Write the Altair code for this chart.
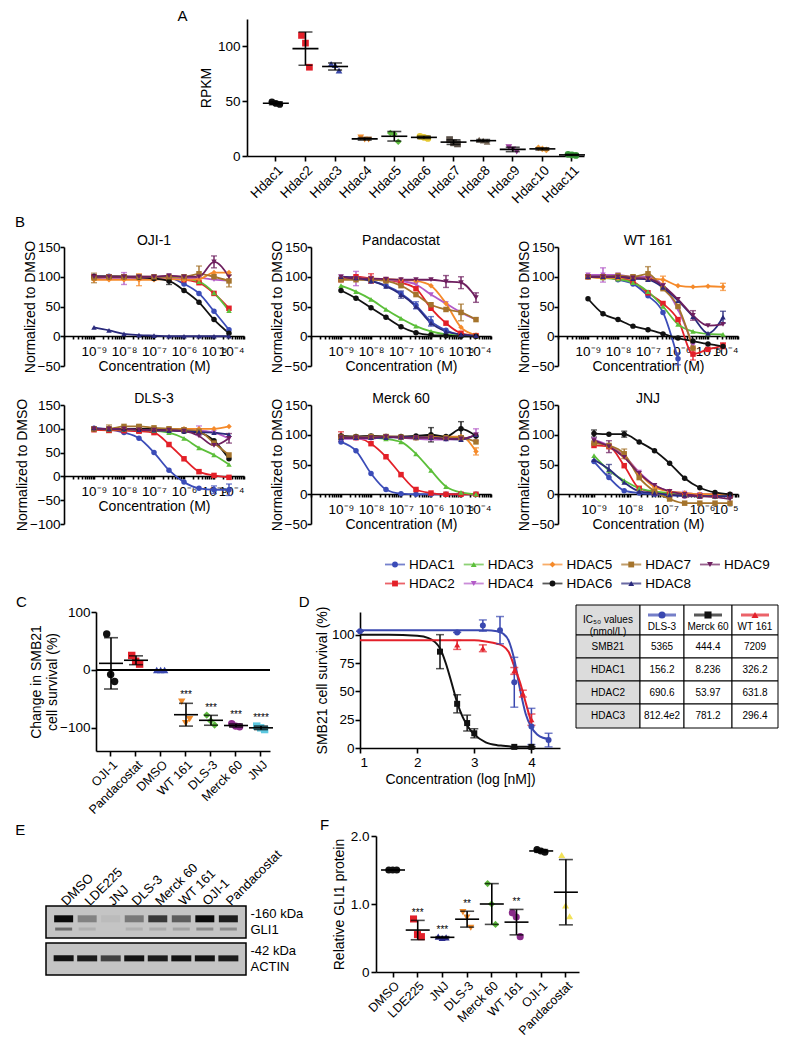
import altair as alt
import pandas as pd

FONT = "Liberation Sans"

# ---------------- Panel A ----------------
A_GENES = ["Hdac1", "Hdac2", "Hdac3", "Hdac4", "Hdac5", "Hdac6", "Hdac7", "Hdac8", "Hdac9", "Hdac10", "Hdac11"]
A_REP1 = [49.5, 110, 84, 17, 21, 18, 15, 15, 8, 7.5, 1.5]
A_REP2 = [48, 103, 83, 15, 20, 17, 12, 14, 6, 6.5, 1]
A_REP3 = [47, 81, 78, 15, 13, 16, 11, 13, 4, 5.5, 0.5]
A_COLORS = ["#111111", "#e3202a", "#3a48a8", "#f08a2a", "#5cba3c", "#e5c832",
            "#5a5048", "#7a6a5a", "#9a3c9a", "#f0a040", "#3a9a3a"]
A_SHAPES = ["circle", "square", "triangle-up", "triangle-down", "diamond", "circle",
            "square", "triangle-up", "triangle-down", "diamond", "circle"]

# ---------------- Panel B ----------------
HDACS = ["HDAC1", "HDAC2", "HDAC3", "HDAC4", "HDAC5", "HDAC6", "HDAC7", "HDAC8", "HDAC9"]
HDAC_COLORS = ["#3b4cb8", "#e32028", "#5cbf3a", "#b35bc8", "#f58a2a", "#111111", "#a5742c", "#2a2a7c", "#6e1f5f"]
HDAC_SHAPES = ["circle", "square", "triangle-up", "triangle-down", "diamond", "circle", "square", "triangle-up", "triangle-down"]
CONC_STD = [1e-9, 3.16e-9, 1e-8, 3.16e-8, 1e-7, 3.16e-7, 1e-6, 3.16e-6, 1e-5, 3.16e-5]
CONC_JNJ = [1e-9, 2.6e-9, 6.9e-9, 1.8e-8, 4.8e-8, 1.26e-7, 3.3e-7, 8.7e-7, 2.3e-6, 6.0e-6]

OJI1 = [
    [101, 101, 100, 100, 99, 98, 88, 72, 42, 11],
    [100, 100, 100, 99, 98, 97, 95, 90, 72, 47],
    [100, 100, 100, 99, 98, 98, 97, 92, 73, 43],
    [97, 98, 97, 97, 98, 97, 97, 98, 95, 93],
    [95, 95, 95, 95, 95, 96, 95, 96, 107, 107],
    [100, 100, 100, 99, 97, 93, 77, 57, 28, 5],
    [98, 100, 100, 100, 100, 100, 100, 105, 100, 93],
    [15, 10, 4, 2, 1, 0, 0, 0, 0, 0],
    [100, 100, 100, 100, 100, 102, 100, 100, 125, 100],
]
PANDACOSTAT = [
    [98, 97, 93, 85, 72, 52, 25, 10, 2, 0],
    [95, 100, 97, 95, 90, 80, 47, 22, 5, 1],
    [85, 75, 62, 45, 30, 17, 8, 3, 1, 0],
    [100, 97, 97, 95, 93, 87, 70, 55, 40, 28],
    [98, 97, 97, 96, 95, 93, 85, 55, 15, 2],
    [77, 64, 48, 32, 16, 6, 2, 1, 0, 0],
    [95, 95, 95, 93, 85, 70, 53, 45, 40, 28],
    [100, 98, 93, 84, 70, 50, 22, 8, 3, 1],
    [100, 97, 97, 96, 95, 95, 95, 92, 90, 65],
]
WT161 = [
    [100, 100, 95, 88, 68, 40, -38, None, None, None],
    [100, 100, 98, 92, 73, 55, 28, -30, -22, -16],
    [100, 98, 96, 90, 75, 50, 20, 8, 4, 3],
    [103, 103, 103, 100, 100, 85, 45, -15, None, None],
    [100, 98, 98, 97, 97, 95, 85, 83, 84, 83],
    [63, 38, 28, 17, 11, 4, -3, -8, -13, -17],
    [100, 100, 102, 100, 105, 80, 50, -20, None, None],
    [100, 100, 100, 97, 95, 82, 60, 33, 5, 32],
    [100, 100, 100, 98, 97, 85, 62, 35, 18, 20],
]
DLS3 = [
    [101, 99, 92, 80, 50, 13, -12, -25, -28, -28],
    [98, 97, 96, 95, 92, 67, 37, 10, 2, -2],
    [100, 99, 99, 98, 96, 92, 80, 60, 45, 25],
    [100, 100, 100, 100, 98, 97, 98, 96, 92, 80],
    [100, 100, 100, 100, 100, 100, 100, 100, 100, 105],
    [100, 100, 100, 100, 100, 98, 95, 92, 75, 37],
    [100, 100, 105, 105, 102, 100, 98, 95, 70, 45],
    [102, 100, 100, 98, 97, 96, 95, 93, 92, 88],
    [100, 100, 100, 98, 97, 97, 95, 85, 65, 80],
]
MERCK60 = [
    [88, 73, 35, 8, 1, 0, 0, 0, 0, 0],
    [97, 95, 85, 63, 33, 8, 2, 0, 0, 0],
    [95, 95, 95, 93, 88, 68, 40, 13, 3, 0],
    [93, 93, 93, 97, 95, 93, 92, 92, 93, 100],
    [97, 97, 97, 97, 97, 97, 97, 97, 97, 72],
    [98, 97, 98, 97, 97, 98, 100, 97, 110, 98],
    [96, 96, 97, 97, 96, 95, 96, 95, 95, 88],
    [95, 95, 95, 95, 96, 96, 95, 93, 92, 100],
    [95, 95, 95, 97, 95, 95, 95, 93, 93, 100],
]
JNJ = [
    [55, 28, 6, 2, 0, -2, -3, -3, -3, -3],
    [82, 80, 48, 10, 3, 0, -2, -3, -3, -3],
    [65, 40, 23, 10, 5, 2, 0, -2, -3, -3],
    [92, 82, 65, 37, 15, 5, 2, 0, 0, 0],
    [88, 80, 63, 35, 12, 5, 2, 0, 0, 0],
    [102, 101, 101, 88, 73, 52, 27, 11, 3, 0],
    [86, 82, 68, 28, 5, -8, -15, -15, -15, -15],
    [58, 42, 20, 5, 2, -1, -2, -3, -3, -3],
    [90, 80, 62, 35, 15, 5, 0, -3, -5, -8],
]
# (panel, series, point index, half error)
B_ERRORS = [
    ("OJI-1", "HDAC9", 8, 10), ("OJI-1", "HDAC7", 7, 13), ("OJI-1", "HDAC7", 9, 10),
    ("OJI-1", "HDAC5", 3, 10), ("OJI-1", "HDAC7", 0, 8), ("OJI-1", "HDAC6", 5, 6), ("OJI-1", "HDAC4", 2, 10),
    ("Pandacostat", "HDAC4", 1, 12), ("Pandacostat", "HDAC9", 7, 10), ("Pandacostat", "HDAC9", 8, 10),
    ("Pandacostat", "HDAC9", 9, 8), ("Pandacostat", "HDAC7", 8, 14), ("Pandacostat", "HDAC1", 6, 8),
    ("Pandacostat", "HDAC1", 5, 6), ("Pandacostat", "HDAC8", 4, 6), ("Pandacostat", "HDAC2", 2, 8),
    ("WT 161", "HDAC4", 1, 12), ("WT 161", "HDAC7", 4, 12), ("WT 161", "HDAC5", 5, 6), ("WT 161", "HDAC1", 6, 10),
    ("WT 161", "HDAC2", 7, 10), ("WT 161", "HDAC8", 9, 10), ("WT 161", "HDAC9", 7, 8), ("WT 161", "HDAC5", 9, 6),
    ("WT 161", "HDAC2", 9, 5),
    ("DLS-3", "HDAC7", 1, 8), ("DLS-3", "HDAC6", 3, 8), ("DLS-3", "HDAC4", 7, 10), ("DLS-3", "HDAC1", 9, 12),
    ("DLS-3", "HDAC1", 8, 8), ("DLS-3", "HDAC9", 9, 10),
    ("Merck 60", "HDAC6", 8, 12), ("Merck 60", "HDAC5", 9, 6), ("Merck 60", "HDAC4", 9, 10),
    ("Merck 60", "HDAC6", 6, 12), ("Merck 60", "HDAC2", 0, 8),
    ("JNJ", "HDAC6", 0, 6), ("JNJ", "HDAC6", 2, 5), ("JNJ", "HDAC7", 2, 8), ("JNJ", "HDAC9", 1, 10), ("JNJ", "HDAC8", 1, 8),
]
LEGEND_ORDER = ["HDAC1", "HDAC3", "HDAC5", "HDAC7", "HDAC9", "HDAC2", "HDAC4", "HDAC6", "HDAC8"]

# ---------------- Panel C ----------------
C_CATS = ["OJI-1", "Pandacostat", "DMSO", "WT 161", "DLS-3", "Merck 60", "JNJ"]
C_REP1 = [62, 25, 0, -55, -78, -93, -97]
C_REP2 = [-8, 15, 0, -92, -88, -97, -100]
C_REP3 = [-20, 10, 0, -85, -95, -98, -103]
C_COLORS = ["#111111", "#e3202a", "#3a48b0", "#f08a2a", "#5cba3c", "#8a2a8a", "#5cc8e0"]
C_SHAPES = ["circle", "square", "triangle-up", "triangle-down", "diamond", "circle", "square"]
C_STAR_CATS = ["WT 161", "DLS-3", "Merck 60", "JNJ"]
C_STAR_TEXT = ["***", "***", "***", "****"]
C_STAR_Y = [-52, -74, -86, -92]

# ---------------- Panel D ----------------
D_DLS3_X = [1.0, 2.7, 3.15, 3.45, 3.7, 4.0, 4.3]
D_DLS3_Y = [103, 102, 108, 104, 58, 19, 7]
D_DLS3_ERR = [0, 0, 5, 12, 22, 16, 6]
D_MERCK_X = [2.4, 2.7, 2.875, 3.0, 3.7, 4.0]
D_MERCK_Y = [85, 39, 22, 13, 1, 1]
D_MERCK_ERR = [15, 8, 7, 4, 0, 0]
D_WT_X = [2.7, 3.15, 3.7, 3.85, 4.0]
D_WT_Y = [91, 88, 68, 48, 25]
D_WT_ERR = [4, 3, 3, 3, 5]
D_CURVE_X = [1.0, 1.5, 2.0, 2.2, 2.4, 2.5, 2.6, 2.7, 2.8, 2.9, 3.0, 3.2, 3.4, 3.5, 3.6, 3.7, 3.8, 3.9, 4.0, 4.1, 4.2, 4.3]
D_CURVE_DLS3 = [104, 104, 104, 104, 104, 104, 104, 104, 104, 104, 104, 104, 103, 101, 95, 78, 52, 30, 18, 12, 9, 8]
D_CURVE_MERCK = [100, 100, 99, 97, 88, 75, 58, 40, 27, 18, 12, 5, 2.5, 2, 1.5, 1, 1, 1, 1, None, None, None]
D_CURVE_WT = [95, 95, 95, 95, 95, 95, 95, 95, 95, 95, 95, 94, 92, 90, 85, 72, 58, 40, 22, None, None, None]
D_COMPOUNDS = ["DLS-3", "Merck 60", "WT 161"]
D_COLORS = ["#3a48b0", "#111111", "#e3202a"]
D_SHAPES = ["circle", "square", "triangle-up"]

# ---------------- Table ----------------
T_ROWS = ["SMB21", "HDAC1", "HDAC2", "HDAC3"]
T_DLS3 = ["5365", "156.2", "690.6", "812.4e2"]
T_MERCK60 = ["444.4", "8.236", "53.97", "781.2"]
T_WT161 = ["7209", "326.2", "631.8", "296.4"]

# ---------------- Panel E ----------------
E_LANES = ["DMSO", "LDE225", "JNJ", "DLS-3", "Merck 60", "WT 161", "OJI-1", "Pandacostat"]
E_GLI1 = [1.0, 0.35, 0.05, 0.4, 0.75, 0.55, 1.0, 0.9]
E_GLI1_LOWER = [0.55, 0.12, 0.0, 0.12, 0.15, 0.2, 0.35, 0.35]
E_ACTIN = [0.95, 0.9, 0.7, 0.95, 0.9, 0.95, 0.95, 0.9]

# ---------------- Panel F ----------------
F_CATS = ["DMSO", "LDE225", "JNJ", "DLS-3", "Merck 60", "WT 161", "OJI-1", "Pandacostat"]
F_REP1 = [1.5, 0.78, 0.52, 0.88, 1.3, 0.87, 1.80, 1.72]
F_REP2 = [1.5, 0.55, 0.50, 0.80, 1.0, 0.81, 1.78, 0.98]
F_REP3 = [1.5, 0.52, 0.51, 0.65, 0.7, 0.52, 1.76, 0.82]
F_COLORS = ["#111111", "#e3202a", "#2a2a8c", "#f08a2a", "#5cba3c", "#8a2a8a", "#111111", "#f2e25a"]
F_SHAPES = ["circle", "square", "triangle-up", "triangle-down", "diamond", "circle", "circle", "triangle-up"]
F_STAR_CATS = ["LDE225", "JNJ", "DLS-3", "WT 161"]
F_STAR_TEXT = ["***", "***", "**", "**"]
F_STAR_Y = [0.8, 0.55, 0.93, 0.95]

SUP = {"-": "\u207b", "0": "\u2070", "1": "\u00b9", "2": "\u00b2", "3": "\u00b3", "4": "\u2074",
       "5": "\u2075", "6": "\u2076", "7": "\u2077", "8": "\u2078", "9": "\u2079"}

LBL = 13.5
TTL = 14
AX = dict(domainColor="black", tickColor="black", labelColor="black", titleColor="black",
          domainWidth=1.6, tickWidth=1.6, grid=False, labelFontSize=LBL, titleFontSize=TTL,
          titleFontWeight="normal")


def letter(t, dy=0, offset=4):
    return alt.TitleParams(t, orient="left", angle=0, anchor="end", fontSize=15,
                           fontWeight="normal", dy=dy, offset=offset, baseline="top")


def spacer(w, h):
    return alt.Chart(pd.DataFrame({"s": [0]})).mark_point(opacity=0).encode(
        x=alt.X("s:Q", axis=None), y=alt.Y("s:Q", axis=None)).properties(width=w, height=h)


def sup(e):
    return "10" + "".join(SUP[ch] for ch in str(e))


def dot_panel(cats, reps, colors, shapes, width, height, ydom, yvals, ytitle, pin, pout, align,
              mean_size, cap, psize, ylabel_expr=None, stars=None, zero_rule=False, title=None, xfont=LBL,
              ytp=4, ylp=2):
    rows = []
    for ci, c in enumerate(cats):
        for ri, r in enumerate(reps):
            rows.append({"cat": c, "rep": ri, "val": r[ci], "clr": colors[ci], "shp": shapes[ci]})
    df = pd.DataFrame(rows)
    yax = dict(AX, values=yvals, title=ytitle, tickSize=5, labelPadding=ylp, titlePadding=ytp)
    if ylabel_expr:
        yax["labelExpr"] = ylabel_expr
    x = alt.X("cat:N", sort=cats,
              scale=alt.Scale(domain=cats, paddingInner=pin, paddingOuter=pout, align=align),
              axis=alt.Axis(**dict(AX, title=None, labelAngle=-45, tickSize=5, labelPadding=2,
                                   labelFontSize=xfont)))
    y = alt.Y("val:Q", scale=alt.Scale(domain=ydom, nice=False, zero=False), axis=alt.Axis(**yax))
    base = alt.Chart(df)
    layers = []
    if zero_rule:
        layers.append(base.mark_rule(color="black", strokeWidth=1.4).encode(y=alt.datum(0)))
    layers.append(base.mark_point(filled=True, size=psize, opacity=1).encode(
        x=x, xOffset=alt.XOffset("rep:N"), y=y,
        color=alt.Color("clr:N", scale=None), shape=alt.Shape("shp:N", scale=None)))
    layers.append(base.mark_errorbar(extent="stdev", ticks={"size": cap}, thickness=1.6,
                                     color="black").encode(x=x, y=y))
    layers.append(base.mark_tick(color="black", size=mean_size, thickness=1.6).encode(
        x=x, y=alt.Y("mean(val):Q")))
    if stars:
        sdf = pd.DataFrame({"cat": stars[0], "txt": stars[1], "val": stars[2]})
        layers.append(alt.Chart(sdf).mark_text(fontSize=10, baseline="bottom").encode(
            x=x, y=y, text="txt:N", color=alt.value("#000000")))
    props = dict(width=width, height=height)
    if title is not None:
        props["title"] = title
    return alt.layer(*layers).properties(**props)


def b_panel(name, values, conc, xmax_exp, ymin, label_exps):
    rows = []
    for i, h in enumerate(HDACS):
        for j, c in enumerate(conc):
            v = values[i][j]
            if v is None:
                continue
            rows.append({"hdac": h, "conc": c, "val": v, "clr": HDAC_COLORS[i], "shp": HDAC_SHAPES[i]})
    df = pd.DataFrame(rows)
    erows = []
    for (p, h, j, e) in B_ERRORS:
        if p != name:
            continue
        i = HDACS.index(h)
        v = values[i][j]
        erows.append({"hdac": h, "conc": conc[j], "val": v - e, "hi": v + e, "clr": HDAC_COLORS[i]})
    edf = pd.DataFrame(erows)
    H = 119
    off = -round(H * (0 - ymin) / (150 - ymin))
    tickvals = []
    for e in range(-10, xmax_exp):
        for k in range(1, 10):
            tickvals.append(float(f"{k}e{e}"))
    tickvals.append(float(f"1e{xmax_exp}"))
    expr = "".join(f"datum.value == 1e{e} ? '{sup(e)}' : " for e in label_exps) + "''"
    x = alt.X("conc:Q", scale=alt.Scale(type="log", domain=[1e-10, float(f"1e{xmax_exp}")]),
              axis=alt.Axis(**dict(AX, values=tickvals, labelExpr=expr, labelOverlap=False, tickSize=3,
                                   offset=off, title="Concentration (M)", labelPadding=5, titlePadding=2,
                                   labelFontSize=13.5)))
    y = alt.Y("val:Q", scale=alt.Scale(domain=[ymin, 150], nice=False, zero=False),
              axis=alt.Axis(**dict(AX, values=list(range(ymin, 151, 50)), title="Normalized to DMSO",
                                   tickSize=4, labelPadding=0, titlePadding=0)))
    color = alt.Color("clr:N", scale=None)
    lines = alt.Chart(df).mark_line(strokeWidth=1.8, interpolate="monotone", clip=True).encode(
        x=x, y=y, color=color, detail="hdac:N")
    errs = alt.Chart(edf).mark_errorbar(ticks={"size": 6}, thickness=1.4).encode(
        x=x, y=y, y2="hi:Q", color=color, detail="hdac:N")
    pts = alt.Chart(df).mark_point(filled=True, size=30, opacity=1, clip=True).encode(
        x=x, y=y, color=color, shape=alt.Shape("shp:N", scale=None))
    return alt.layer(lines, errs, pts).properties(
        width=180, height=H,
        title=alt.TitleParams(name, fontSize=TTL, fontWeight="normal", offset=-8))


# ---------- build A ----------
chartA = dot_panel(A_GENES, [A_REP1, A_REP2, A_REP3], A_COLORS, A_SHAPES, 337, 137, [0, 125],
                   [0, 25, 50, 75, 100, 125], "RPKM", 0.6, 0.49, 0.79, 26, 14, 45,
                   title=letter("A", dy=-10, offset=2))

# ---------- build B ----------
oji = b_panel("OJI-1", OJI1, CONC_STD, -4, -50, [-9, -8, -7, -6, -5, -4])
pan = b_panel("Pandacostat", PANDACOSTAT, CONC_STD, -4, -50, [-9, -8, -7, -6, -5, -4])
wt = b_panel("WT 161", WT161, CONC_STD, -4, -50, [-9, -8, -7, -6, -5, -4])
dls = b_panel("DLS-3", DLS3, CONC_STD, -4, -100, [-9, -8, -7, -6, -5, -4])
mer = b_panel("Merck 60", MERCK60, CONC_STD, -4, -50, [-9, -8, -7, -6, -5, -4])
jnj = b_panel("JNJ", JNJ, CONC_JNJ, -5, -50, [-9, -8, -7, -6, -5])
gridB = alt.concat(oji, pan, wt, dls, mer, jnj, columns=3, spacing={"row": 17, "column": 23},
                   title=alt.TitleParams("B", anchor="start", fontSize=15, fontWeight="normal", offset=4))

# ---------- legend ----------
ldf = pd.DataFrame({"hdac": LEGEND_ORDER,
                    "col": [i % 5 for i in range(9)],
                    "row": [i // 5 for i in range(9)],
                    "clr": [HDAC_COLORS[HDACS.index(h)] for h in LEGEND_ORDER],
                    "shp": [HDAC_SHAPES[HDACS.index(h)] for h in LEGEND_ORDER]})
lx = alt.X("col:Q", scale=alt.Scale(domain=[-0.254, 4.826], nice=False, zero=False), axis=None)
ly = alt.Y("row:Q", scale=alt.Scale(domain=[-0.5, 1.5], reverse=True, nice=False), axis=None)
legend = alt.layer(
    alt.Chart(ldf).mark_tick(orient="horizontal", size=20, thickness=1.8).encode(
        x=lx, y=ly, color=alt.Color("clr:N", scale=None)),
    alt.Chart(ldf).mark_point(filled=True, size=34, opacity=1).encode(
        x=lx, y=ly, color=alt.Color("clr:N", scale=None), shape=alt.Shape("shp:N", scale=None)),
    alt.Chart(ldf).mark_text(align="left", dx=14, fontSize=13.5).encode(
        x=lx, y=ly, text="hdac:N", color=alt.value("#000000")),
).properties(width=400, height=38)

# ---------- C ----------
chartC = dot_panel(C_CATS, [C_REP1, C_REP2, C_REP3], C_COLORS, C_SHAPES, 174, 139, [-140, 100],
                   [-100, -50, 0, 50, 100], ["Change in SMB21", "cell survival (%)"], 0.5, 0.23, 0.76,
                   24, 14, 55, stars=(C_STAR_CATS, C_STAR_TEXT, C_STAR_Y), zero_rule=True,
                   title=letter("C", dy=-10, offset=-8), xfont=12.5, ytp=0, ylp=1)

# ---------- D ----------
prow = []
for ci, (comp, xs, ys, es) in enumerate([("DLS-3", D_DLS3_X, D_DLS3_Y, D_DLS3_ERR),
                                          ("Merck 60", D_MERCK_X, D_MERCK_Y, D_MERCK_ERR),
                                          ("WT 161", D_WT_X, D_WT_Y, D_WT_ERR)]):
    for xv, yv, ev in zip(xs, ys, es):
        prow.append({"comp": comp, "x": xv, "y": yv, "lo": yv - ev, "hi": yv + ev,
                     "clr": D_COLORS[ci], "shp": D_SHAPES[ci]})
dpts = pd.DataFrame(prow)
crow = []
for ci, (comp, cs) in enumerate([("DLS-3", D_CURVE_DLS3), ("Merck 60", D_CURVE_MERCK), ("WT 161", D_CURVE_WT)]):
    for xv, yv in zip(D_CURVE_X, cs):
        if yv is not None:
            crow.append({"comp": comp, "x": xv, "y": yv, "clr": D_COLORS[ci]})
dcur = pd.DataFrame(crow)
dxax = alt.Axis(**dict(AX, values=[1, 2, 3, 4], title="Concentration (log [nM])", tickSize=5,
                       labelPadding=2, titlePadding=4))
dyax = alt.Axis(**dict(AX, values=[0, 25, 50, 75, 100], title="SMB21 cell survival (%)", tickSize=5,
                       labelPadding=1, titlePadding=2))
dxs = alt.Scale(domain=[1, 4.5], nice=False, zero=False)
dys = alt.Scale(domain=[0, 120], nice=False)
dclr = alt.Color("clr:N", scale=None)
chartD = alt.layer(
    alt.Chart(dcur).mark_line(strokeWidth=2, interpolate="monotone").encode(
        x=alt.X("x:Q", scale=dxs, axis=dxax), y=alt.Y("y:Q", scale=dys, axis=dyax), color=dclr, detail="comp:N"),
    alt.Chart(dpts).mark_errorbar(ticks={"size": 8}, thickness=1.5).encode(
        x=alt.X("x:Q", scale=dxs, axis=dxax), y=alt.Y("lo:Q", scale=dys, axis=dyax), y2="hi:Q", color=dclr,
        detail="comp:N"),
    alt.Chart(dpts).mark_point(filled=True, size=36, opacity=1).encode(
        x=alt.X("x:Q", scale=dxs, axis=dxax), y=alt.Y("y:Q", scale=dys, axis=dyax), color=dclr,
        shape=alt.Shape("shp:N", scale=None)),
).properties(width=200, height=136, title=letter("D", dy=-11, offset=-5))

# ---------- table ----------
COL_EDGES = [0, 64, 108, 156, 202]
ROW_EDGES = [0, 30, 53, 76, 99, 123]
cells = []
cells.append({"x0": COL_EDGES[0], "x1": COL_EDGES[1], "y0": ROW_EDGES[0], "y1": ROW_EDGES[1], "fill": "#dcdcdc",
              "txt": "IC\u2085\u2080 values\n(nmol/L)", "ty": 15})
for ci, comp in enumerate(D_COMPOUNDS):
    cells.append({"x0": COL_EDGES[ci + 1], "x1": COL_EDGES[ci + 2], "y0": ROW_EDGES[0], "y1": ROW_EDGES[1],
                  "fill": "#ffffff", "txt": comp, "ty": 22})
for ri, rname in enumerate(T_ROWS):
    vals = [T_DLS3[ri], T_MERCK60[ri], T_WT161[ri]]
    y0, y1 = ROW_EDGES[ri + 1], ROW_EDGES[ri + 2]
    cells.append({"x0": COL_EDGES[0], "x1": COL_EDGES[1], "y0": y0, "y1": y1, "fill": "#dcdcdc",
                  "txt": rname, "ty": (y0 + y1) / 2})
    for ci, v in enumerate(vals):
        cells.append({"x0": COL_EDGES[ci + 1], "x1": COL_EDGES[ci + 2], "y0": y0, "y1": y1, "fill": "#ffffff",
                      "txt": v, "ty": (y0 + y1) / 2})
tdf = pd.DataFrame(cells)
tdf["tx"] = (tdf["x0"] + tdf["x1"]) / 2
txs = alt.Scale(domain=[0, COL_EDGES[-1]], nice=False, zero=False)
# the table sits 7 px above the neighbouring plot tops
tys = alt.Scale(domain=[7, ROW_EDGES[-1] + 7], reverse=True, nice=False, zero=False)
sym = pd.DataFrame({"comp": D_COMPOUNDS,
                    "tx": [(COL_EDGES[i + 1] + COL_EDGES[i + 2]) / 2 for i in range(3)],
                    "ty": [10, 10, 10], "clr": D_COLORS, "shp": D_SHAPES})
table = alt.layer(
    alt.Chart(tdf).mark_rect(stroke="black", strokeWidth=1).encode(
        x=alt.X("x0:Q", scale=txs, axis=None), x2="x1:Q",
        y=alt.Y("y0:Q", scale=tys, axis=None), y2="y1:Q", fill=alt.Fill("fill:N", scale=None)),
    alt.Chart(tdf).mark_text(fontSize=10, lineBreak="\n").encode(
        x=alt.X("tx:Q", scale=txs, axis=None), y=alt.Y("ty:Q", scale=tys, axis=None), text="txt:N",
        color=alt.value("#000000")),
    alt.Chart(sym).mark_tick(orient="horizontal", size=28, thickness=3).encode(
        x=alt.X("tx:Q", scale=txs, axis=None), y=alt.Y("ty:Q", scale=tys, axis=None),
        color=alt.Color("clr:N", scale=None)),
    alt.Chart(sym).mark_point(filled=True, size=50, opacity=1).encode(
        x=alt.X("tx:Q", scale=txs, axis=None), y=alt.Y("ty:Q", scale=tys, axis=None),
        color=alt.Color("clr:N", scale=None), shape=alt.Shape("shp:N", scale=None)),
).properties(width=COL_EDGES[-1], height=ROW_EDGES[-1])

# ---------- E ----------
edf = pd.DataFrame({"lane": E_LANES, "g": E_GLI1, "gl": E_GLI1_LOWER, "a": E_ACTIN})
ex_top = alt.X("lane:N", sort=E_LANES, scale=alt.Scale(paddingInner=0.1, paddingOuter=0.3),
               axis=alt.Axis(orient="top", title=None, labelAngle=-45, labelAlign="left", labelBaseline="middle",
                             ticks=False, domain=False, labelFontSize=13, labelColor="black", labelPadding=3))
ex_none = alt.X("lane:N", sort=E_LANES, scale=alt.Scale(paddingInner=0.1, paddingOuter=0.3), axis=None)
blot_view = alt.ViewBackground(fill="#c4c4c4", stroke="black", strokeWidth=1.5)


def yd(v, labels):
    return alt.YDatum(v, scale=alt.Scale(domain=[0, 1], nice=False),
                      axis=alt.Axis(orient="right", values=[0.78, 0.26], title=None, ticks=False, domain=False,
                                    labelFontSize=13, labelColor="black", labelPadding=4,
                                    labelExpr=f"datum.value > 0.5 ? '{labels[0]}' : '{labels[1]}'"))


gli = alt.layer(
    alt.Chart(edf).mark_tick(orient="horizontal", size=19, thickness=7, color="#0a0a0a").encode(
        x=ex_top, y=yd(0.6, ["-160 kDa", "GLI1"]),
        opacity=alt.Opacity("g:Q", scale=alt.Scale(domain=[0, 1], range=[0, 1]), legend=None)),
    alt.Chart(edf).mark_tick(orient="horizontal", size=17, thickness=3, color="#222222").encode(
        x=ex_top, y=yd(0.28, ["-160 kDa", "GLI1"]),
        opacity=alt.Opacity("gl:Q", scale=alt.Scale(domain=[0, 1], range=[0, 1]), legend=None)),
).properties(width=200, height=32, view=blot_view)
act = alt.Chart(edf).mark_tick(orient="horizontal", size=20, thickness=6, color="#0a0a0a").encode(
    x=ex_none, y=yd(0.52, ["-42 kDa", "ACTIN"]),
    opacity=alt.Opacity("a:Q", scale=alt.Scale(domain=[0, 1], range=[0, 1]), legend=None)
).properties(width=200, height=32, view=blot_view)
chartE = alt.vconcat(spacer(1, 6), gli, act, spacing=3, title=letter("E", dy=-13, offset=8))

# ---------- F ----------
chartF = dot_panel(F_CATS, [F_REP1, F_REP2, F_REP3], F_COLORS, F_SHAPES, 203, 136, [0, 2.0],
                   [0, 0.5, 1.0, 1.5, 2.0], "Relative GLI1 protein", 0.5, 0.36, 0.61, 24, 14, 50,
                   ylabel_expr="datum.value == 0 ? '0' : format(datum.value, '.1f')",
                   stars=(F_STAR_CATS, F_STAR_TEXT, F_STAR_Y), title=letter("F", dy=-11, offset=-6), xfont=12.5)

# ---------- assemble ----------
rowA = alt.hconcat(spacer(164, 1), chartA, spacing=0)
rowB = alt.hconcat(spacer(1, 1), gridB, spacing=0)
rowL = alt.hconcat(spacer(362, 1), legend, spacing=0)
rowCD = alt.hconcat(spacer(1, 1), chartC, spacer(22, 1), chartD, spacer(12, 1), table, spacing=0)
rowEF = alt.hconcat(spacer(1, 1), chartE, spacer(13, 1), chartF, spacing=0)

chart = alt.vconcat(
    rowA, spacer(1, 2), rowB, spacer(1, 18), rowL, rowCD, rowEF,
    spacing=0
).properties(padding=0).configure(font=FONT).configure_view(stroke="transparent").configure_title(
    color="black", fontWeight="normal")

chart.save("out.html", embed_options={"renderer": "svg", "actions": False})
